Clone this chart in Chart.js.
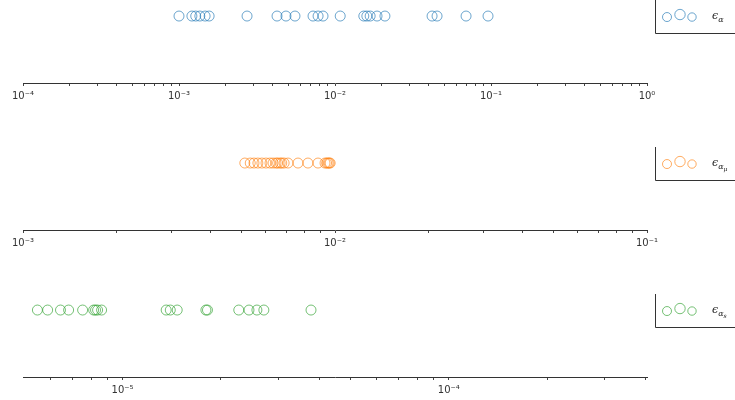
<!DOCTYPE html>
<html>
<head>
<meta charset="utf-8">
<script src="https://cdn.jsdelivr.net/npm/chart.js"></script>
<style>
  html, body { margin: 0; padding: 0; background: #fff; overflow: hidden; }
  #wrap { position: relative; width: 735px; height: 400px; }
  #wrap canvas { position: absolute; left: 0; }
</style>
</head>
<body>
<div id="wrap">
  <canvas id="c0" width="735" height="106" style="top:0px"></canvas>
  <canvas id="c1" width="735" height="106" style="top:147px"></canvas>
  <canvas id="c2" width="735" height="106" style="top:294px"></canvas>
</div>
<script>
// ===== DATA =====
const alphaEps = [1.0e-3, 1.21e-3, 1.28e-3, 1.36e-3, 1.47e-3, 1.56e-3, 2.73e-3, 4.25e-3, 4.85e-3,
    5.54e-3, 7.23e-3, 7.79e-3, 8.38e-3, 1.08e-2, 1.53e-2, 1.60e-2, 1.68e-2, 1.86e-2, 2.09e-2,
    4.19e-2, 4.51e-2, 6.92e-2, 9.57e-2];
const alphaMuEps = [5.14e-3, 5.35e-3, 5.50e-3, 5.66e-3, 5.83e-3, 6.01e-3, 6.19e-3, 6.33e-3, 6.47e-3,
    6.55e-3, 6.67e-3, 6.75e-3, 6.87e-3, 7.07e-3, 7.61e-3, 8.19e-3, 8.82e-3, 9.29e-3, 9.40e-3,
    9.50e-3, 9.58e-3, 9.65e-3];
const alphaSEps = [5.48e-6, 5.89e-6, 6.45e-6, 6.83e-6, 7.54e-6, 8.15e-6, 8.26e-6, 8.38e-6, 8.62e-6,
    1.36e-5, 1.40e-5, 1.47e-5, 1.80e-5, 1.82e-5, 2.27e-5, 2.44e-5, 2.58e-5, 2.71e-5, 3.78e-5];

// x limits of each panel
const xLimits = [[1e-4, 1], [1e-3, 1e-1], [4.95e-6, 4.05e-4]];

// legend labels: base, subscript, sub-subscript
const legendLabels = [['ϵ', 'α', ''], ['ϵ', 'α', 'μ'], ['ϵ', 'α', 's']];
const colors = ['rgba(31,119,180,0.65)', 'rgba(255,127,14,0.65)', 'rgba(44,160,44,0.65)'];

const ROW_Y = 1;

// ===== HELPERS =====
const SUP = { '-': '⁻', '0': '⁰', '1': '¹', '2': '²', '3': '³', '4': '⁴', '5': '⁵', '6': '⁶', '7': '⁷', '8': '⁸', '9': '⁹' };

function decadeExp(v) {
    const e = Math.log10(v);
    const r = Math.round(e);
    return Math.abs(e - r) < 1e-6 ? r : null;
}

function isNiceTick(v) {
    const e = Math.floor(Math.log10(v) + 1e-9);
    const m = v / Math.pow(10, e);
    return Math.abs(m - Math.round(m)) < 1e-6;
}

// legend drawn beside the axes, outside the plot area
const legendPlugin = {
    id: 'sideLegend',
    afterDraw(chart) {
        const opts = chart.options.plugins.sideLegend;
        const ctx = chart.ctx;
        const yPix = chart.scales.y.getPixelForValue(ROW_Y);
        ctx.save();
        // frame
        ctx.fillStyle = '#fff';
        ctx.strokeStyle = '#333';
        ctx.lineWidth = 1;
        ctx.beginPath();
        ctx.rect(655.5, Math.round(yPix - 17) + 0.5, 100, 34);
        ctx.fill();
        ctx.stroke();
        // three markers, scatter style
        const marks = [[667, 1, 4.5], [680, -1.5, 5.2], [692, 1, 4.2]];
        ctx.strokeStyle = opts.color;
        marks.forEach(m => {
            ctx.beginPath();
            ctx.arc(m[0], yPix + m[1], m[2], 0, Math.PI * 2);
            ctx.stroke();
        });
        // label with nested subscripts
        const lab = opts.label;
        ctx.fillStyle = '#222';
        ctx.textBaseline = 'alphabetic';
        let x = 712;
        const base = yPix + 3;
        ctx.font = "italic 11px 'DejaVu Serif'";
        ctx.fillText(lab[0], x, base);
        x += ctx.measureText(lab[0]).width;
        ctx.font = "italic 8px 'DejaVu Serif'";
        ctx.fillText(lab[1], x, base + 3);
        x += ctx.measureText(lab[1]).width;
        if (lab[2]) {
            ctx.font = "italic 6px 'DejaVu Serif'";
            ctx.fillText(lab[2], x, base + 5);
        }
        ctx.restore();
    }
};

function makePanel(canvasId, values, limits, color, label) {
    const ctx = document.getElementById(canvasId);
    return new Chart(ctx, {
        type: 'scatter',
        data: {
            datasets: [{
                data: values.map(v => ({ x: v, y: ROW_Y })),
                borderColor: color,
                backgroundColor: 'rgba(0,0,0,0)',
                borderWidth: 1,
                pointRadius: 5,
                pointHoverRadius: 5
            }]
        },
        options: {
            responsive: false,
            animation: false,
            devicePixelRatio: 1,
            layout: { padding: { left: 23, right: 88, top: 0, bottom: 0 } },
            plugins: {
                legend: { display: false },
                tooltip: { enabled: false },
                sideLegend: { color: color, label: label }
            },
            scales: {
                x: {
                    type: 'logarithmic',
                    min: limits[0],
                    max: limits[1],
                    border: { display: true, color: '#333', width: 1 },
                    grid: {
                        display: true,
                        drawOnChartArea: false,
                        drawTicks: true,
                        tickLength: 3,
                        tickColor: c => (c.tick && isNiceTick(c.tick.value)) ? '#444' : 'rgba(0,0,0,0)'
                    },
                    ticks: {
                        autoSkip: false,
                        maxRotation: 0,
                        padding: 4,
                        color: '#333',
                        font: { family: 'DejaVu Sans', size: 10 },
                        callback: function(value) {
                            const e = decadeExp(value);
                            if (e === null) return '';
                            return '10' + String(e).split('').map(ch => SUP[ch]).join('');
                        }
                    }
                },
                y: {
                    display: false,
                    min: 0,
                    max: 1.15
                }
            }
        },
        plugins: [legendPlugin]
    });
}

document.addEventListener('DOMContentLoaded', function() {
    makePanel('c0', alphaEps, xLimits[0], colors[0], legendLabels[0]);
    makePanel('c1', alphaMuEps, xLimits[1], colors[1], legendLabels[1]);
    makePanel('c2', alphaSEps, xLimits[2], colors[2], legendLabels[2]);
});
</script>
</body>
</html>
